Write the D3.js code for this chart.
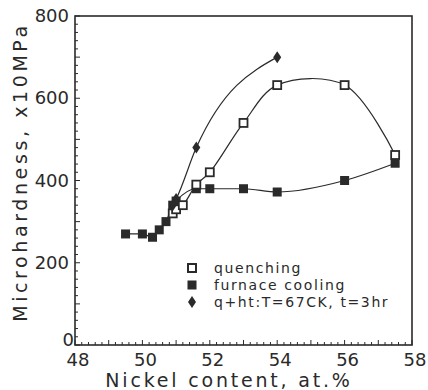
<!DOCTYPE html>
<html><head><meta charset="utf-8">
<script src="https://cdnjs.cloudflare.com/ajax/libs/d3/7.8.5/d3.min.js"></script>
<style>body{margin:0;background:#fff}svg{display:block}</style>
</head><body>
<script>
const quenchX = [50.9, 51.0, 51.2, 51.6, 52.0, 53.0, 54.0, 56.0, 57.5];
const quenchY = [320, 330, 340, 390, 420, 540, 632, 632, 462];
const furnaceX = [49.5, 50.0, 50.3, 50.5, 50.7, 50.9, 51.0, 51.6, 52.0, 53.0, 54.0, 56.0, 57.5];
const furnaceY = [270, 270, 262, 280, 300, 340, 350, 380, 380, 380, 372, 400, 442];
const heatX = [50.9, 51.0, 51.6, 54.0];
const heatY = [340, 355, 480, 700];
const xTicks = [48, 50, 52, 54, 56, 58];
const yTicks = [0, 200, 400, 600, 800];
const legendLabels = ["quenching", "furnace cooling", "q+ht:T=67CK, t=3hr"];

const W = 428, H = 390;
const ink = "#2a2a2a";
const svg = d3.select("body").append("svg").attr("width", W).attr("height", H);
const x = d3.scaleLinear().domain([48, 58]).range([75, 412]);
const y = d3.scaleLinear().domain([0, 800]).range([345, 16]);
const font = "DejaVu Sans, sans-serif";

// frame
svg.append("rect").attr("x", 75).attr("y", 16).attr("width", 337).attr("height", 329)
  .attr("fill", "none").attr("stroke", ink).attr("stroke-width", 1.6);

// ticks
const g = svg.append("g").attr("stroke", ink).attr("stroke-width", 1);
d3.range(48, 58.001, 0.2).forEach(v => {
  const major = Math.abs(v - Math.round(v)) < 1e-6;
  g.append("line").attr("x1", x(v)).attr("x2", x(v)).attr("y1", 345).attr("y2", 345 - (major ? 5 : 3));
});
d3.range(0, 800.001, 20).forEach(v => {
  const major = v % 100 === 0;
  g.append("line").attr("y1", y(v)).attr("y2", y(v)).attr("x1", 75).attr("x2", 75 + (major ? 5 : 3));
});

// tick labels
svg.selectAll(".xt").data(xTicks).join("text")
  .attr("x", d => x(d) + 3).attr("y", 366).attr("text-anchor", "middle")
  .attr("font-family", font).attr("font-size", 18).attr("fill", ink).text(d => d);
svg.selectAll(".yt").data(yTicks).join("text")
  .attr("x", d => d === 0 ? 74 : 69).attr("y", d => d === 0 ? y(d) + 1 : y(d) + 6).attr("text-anchor", "end")
  .attr("font-family", font).attr("font-size", 18).attr("fill", ink).text(d => d);

// axis titles
svg.append("text").attr("x", 229).attr("y", 387).attr("text-anchor", "middle")
  .attr("font-family", font).attr("font-size", 19).attr("fill", ink).attr("letter-spacing", 2.8)
  .text("Nickel content, at.%");
svg.append("text").attr("transform", "translate(27,172) rotate(-90)").attr("text-anchor", "middle")
  .attr("font-family", font).attr("font-size", 19).attr("fill", ink).attr("letter-spacing", 3.6)
  .text("Microhardness, x10MPa");

const zip = (a, b) => a.map((v, i) => [v, b[i]]);
const line = c => d3.line().x(d => x(d[0])).y(d => y(d[1])).curve(c);

const q = zip(quenchX, quenchY), f = zip(furnaceX, furnaceY), h = zip(heatX, heatY);
svg.append("path").attr("d", line(d3.curveMonotoneX)(h)).attr("fill", "none").attr("stroke", ink).attr("stroke-width", 1.2);
svg.append("path").attr("d", line(d3.curveCatmullRom.alpha(0.5))(q)).attr("fill", "none").attr("stroke", ink).attr("stroke-width", 1.2);
svg.append("path").attr("d", line(d3.curveMonotoneX)(f)).attr("fill", "none").attr("stroke", ink).attr("stroke-width", 1.2);

// markers
svg.selectAll(".fm").data(f).join("rect")
  .attr("x", d => x(d[0]) - 4.5).attr("y", d => y(d[1]) - 4.5).attr("width", 9).attr("height", 9)
  .attr("fill", ink);
svg.selectAll(".qm").data(q).join("rect")
  .attr("x", d => x(d[0]) - 4).attr("y", d => y(d[1]) - 4).attr("width", 8).attr("height", 8)
  .attr("fill", "#fff").attr("stroke", ink).attr("stroke-width", 1.8);
const diamond = (cx, cy) => `M${cx},${cy - 6}L${cx + 4},${cy}L${cx},${cy + 6}L${cx - 4},${cy}Z`;
svg.selectAll(".hm").data(h).join("path")
  .attr("d", d => diamond(x(d[0]), y(d[1]))).attr("fill", ink);

// legend
const ly = [268, 285, 302];
svg.append("rect").attr("x", 188).attr("y", ly[0] - 4).attr("width", 8).attr("height", 8)
  .attr("fill", "#fff").attr("stroke", ink).attr("stroke-width", 2);
svg.append("rect").attr("x", 187.5).attr("y", ly[1] - 4.5).attr("width", 9).attr("height", 9).attr("fill", ink);
svg.append("path").attr("d", diamond(192, ly[2])).attr("fill", ink);
svg.selectAll(".lt").data(legendLabels).join("text")
  .attr("x", 214).attr("y", (d, i) => ly[i] + 5)
  .attr("font-family", font).attr("font-size", 14).attr("fill", ink).attr("letter-spacing", 1.6)
  .text(d => d);
</script>
</body></html>
